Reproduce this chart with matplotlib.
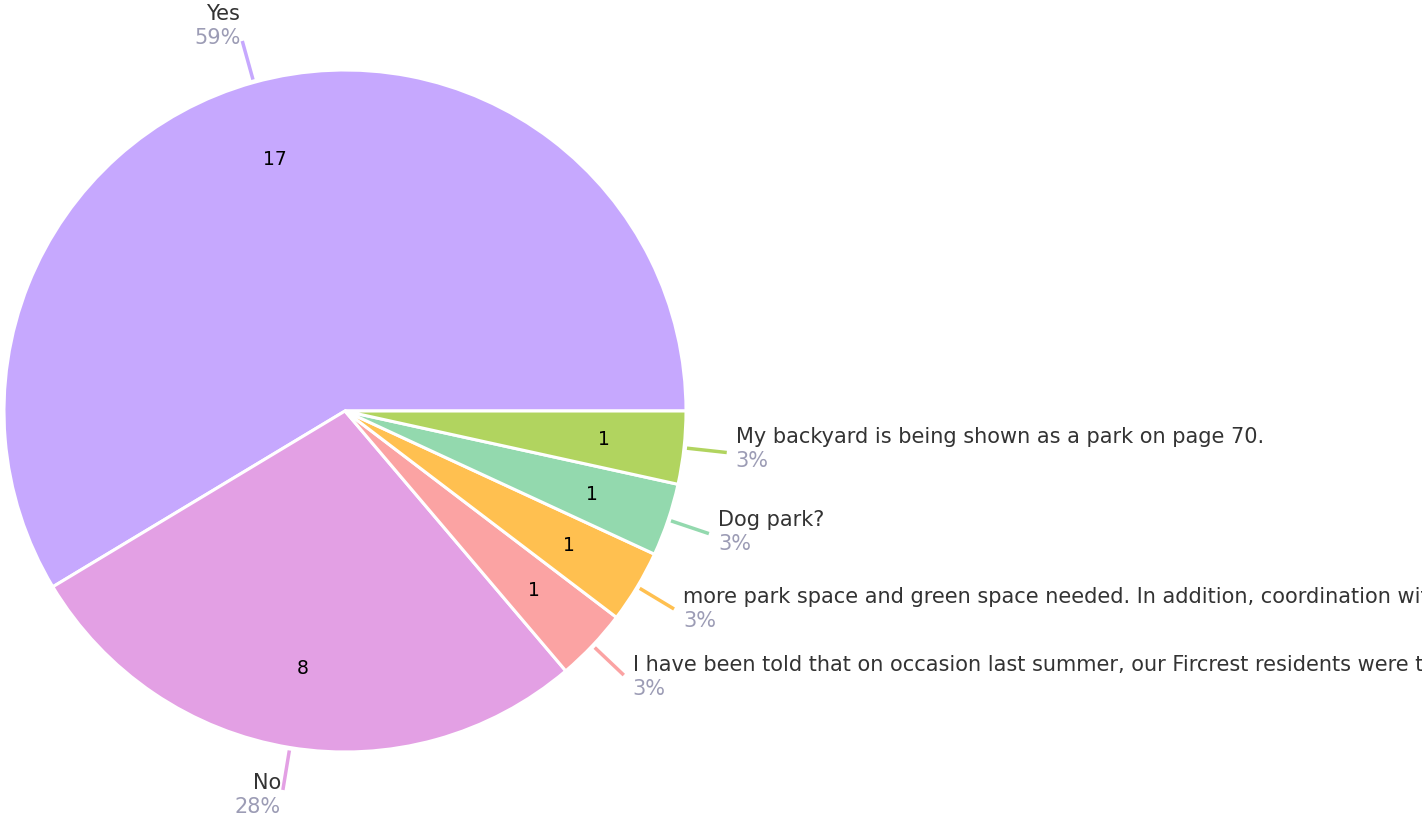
import numpy as np
import matplotlib.pyplot as plt

W, H = 1422, 817

labels = ["Yes", "No",
          "I have been told that on occasion last summer, our Fircrest residents were turned away from the park because it was full.",
          "more park space and green space needed. In addition, coordination with neighboring cities on trails and open space.",
          "Dog park?",
          "My backyard is being shown as a park on page 70."]
counts = [17, 8, 1, 1, 1, 1]
colors = ["#c6a8fe", "#e3a0e4", "#fba3a3", "#ffc050", "#93d9ae", "#b1d45f"]

total = sum(counts)
pcts = [round(c / total * 100) for c in counts]

fig = plt.figure(figsize=(W / 100, H / 100), dpi=100)
ax = fig.add_axes([0, 0, 1, 1])

cx, cy, r = 345, H - 411, 341
wedges, _ = ax.pie(counts, colors=colors, startangle=0, counterclock=True,
                   center=(cx, cy), radius=r,
                   wedgeprops=dict(edgecolor="white", linewidth=2.2))

for w, c, lab, p, col in zip(wedges, counts, labels, pcts, colors):
    mid = np.deg2rad((w.theta1 + w.theta2) / 2)
    ca, sa = np.cos(mid), np.sin(mid)
    # value inside the slice
    ax.text(cx + 0.765 * r * ca, cy + 0.765 * r * sa, str(c),
            ha="center", va="center", fontsize=13.5, color="black")
    # short leader line outside the rim
    x0, y0 = cx + (r + 3) * ca, cy + (r + 3) * sa
    x1, y1 = cx + (r + 43) * ca, cy + (r + 43) * sa
    ax.plot([x0, x1], [y0, y1], color=col, lw=2.5, solid_capstyle="butt")
    if ca >= 0:
        tx, ha = x1 + 9, "left"
    else:
        tx, ha = x1 - 2, "right"
    yc = y1 + 10 * sa + 5
    ax.text(tx, yc + 12, lab, ha=ha, va="center", fontsize=15, color="#333333")
    ax.text(tx, yc - 12, f"{p}%", ha=ha, va="center", fontsize=15, color="#9c9cb5")

ax.set_xlim(0, W)
ax.set_ylim(0, H)
ax.set_aspect("equal")
ax.axis("off")

fig.savefig("out.png", dpi=100, facecolor="white")
